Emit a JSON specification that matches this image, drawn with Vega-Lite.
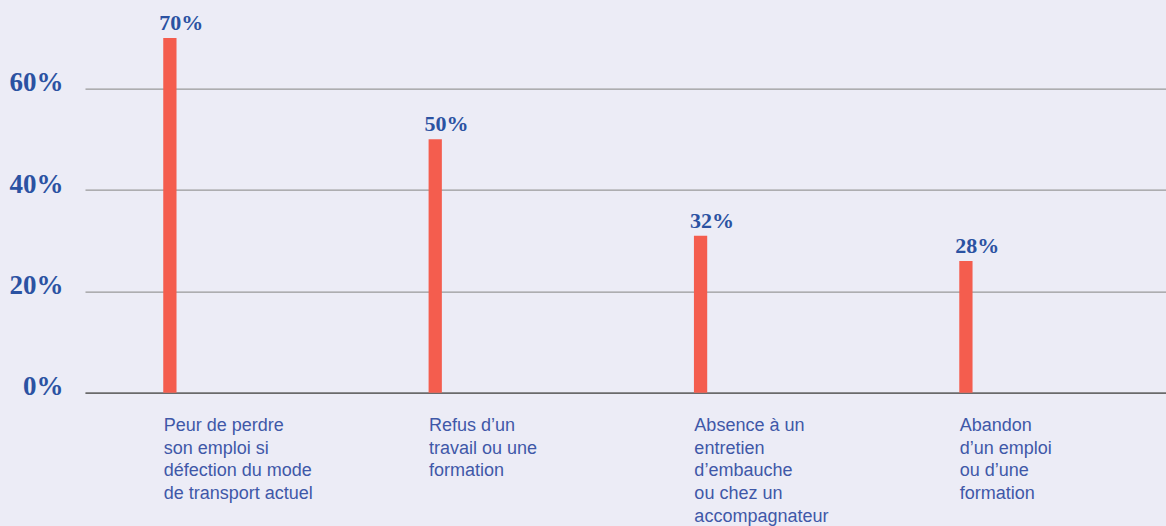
{
  "$schema": "https://vega.github.io/schema/vega-lite/v6.json",
  "autosize": "none",
  "padding": {"left": 85, "top": 12.7, "right": 0, "bottom": 133.3},
  "width": 1081,
  "height": 380,
  "background": "#ececf6",
  "config": {"view": {"stroke": null}},
  "data": {
    "values": [
      {"cat": "Peur de perdre|son emploi si|défection du mode|de transport actuel", "value": 70, "label": "70%"},
      {"cat": "Refus d’un|travail ou une|formation", "value": 50, "label": "50%"},
      {"cat": "Absence à un|entretien|d’embauche|ou chez un|accompagnateur", "value": 31, "label": "32%"},
      {"cat": "Abandon|d’un emploi|ou d’une|formation", "value": 26, "label": "28%"}
    ]
  },
  "encoding": {
    "x": {
      "field": "cat",
      "type": "nominal",
      "sort": null,
      "scale": {"paddingInner": 0.95, "paddingOuter": 0.512, "align": 0.288},
      "axis": {
        "title": null,
        "labelAngle": 0,
        "labelAlign": "left",
        "labelBaseline": "top",
        "labelOffset": -6.2,
        "labelExpr": "split(datum.label, '|')",
        "ticks": false,
        "labelPadding": 24,
        "labelFont": "Liberation Sans",
        "labelFontSize": 18,
        "labelColor": "#3f58a8",
        "labelLineHeight": 22.6,
        "labelLimit": 0,
        "labelOverlap": false,
        "labelBound": false,
        "labelFlush": false,
        "domainColor": "#555555",
        "domainWidth": 1.3,
        "grid": false
      }
    },
    "y": {
      "field": "value",
      "type": "quantitative",
      "scale": {"domain": [0, 75], "nice": false},
      "axis": {
        "title": null,
        "values": [0, 20, 40, 60],
        "labelExpr": "datum.value + '%'",
        "domain": false,
        "ticks": false,
        "gridColor": "#999999",
        "gridWidth": 1.3,
        "labelFont": "Liberation Serif",
        "labelFontWeight": "bold",
        "labelFontSize": 27,
        "labelColor": "#2b52a2",
        "labelPadding": 22,
        "labelBaseline": "alphabetic",
        "labelOffset": 2,
        "labelFlush": false,
        "labelBound": false,
        "labelOverlap": false
      }
    }
  },
  "layer": [
    {"mark": {"type": "bar", "color": "#f45d4e"}},
    {
      "mark": {
        "type": "text",
        "align": "left",
        "baseline": "alphabetic",
        "dx": -4,
        "dy": -8,
        "font": "Liberation Serif",
        "fontWeight": "bold",
        "fontSize": 22,
        "color": "#2b52a2"
      },
      "encoding": {
        "x": {"field": "cat", "type": "nominal", "sort": null, "bandPosition": 0},
        "text": {"field": "label"}
      }
    }
  ]
}
